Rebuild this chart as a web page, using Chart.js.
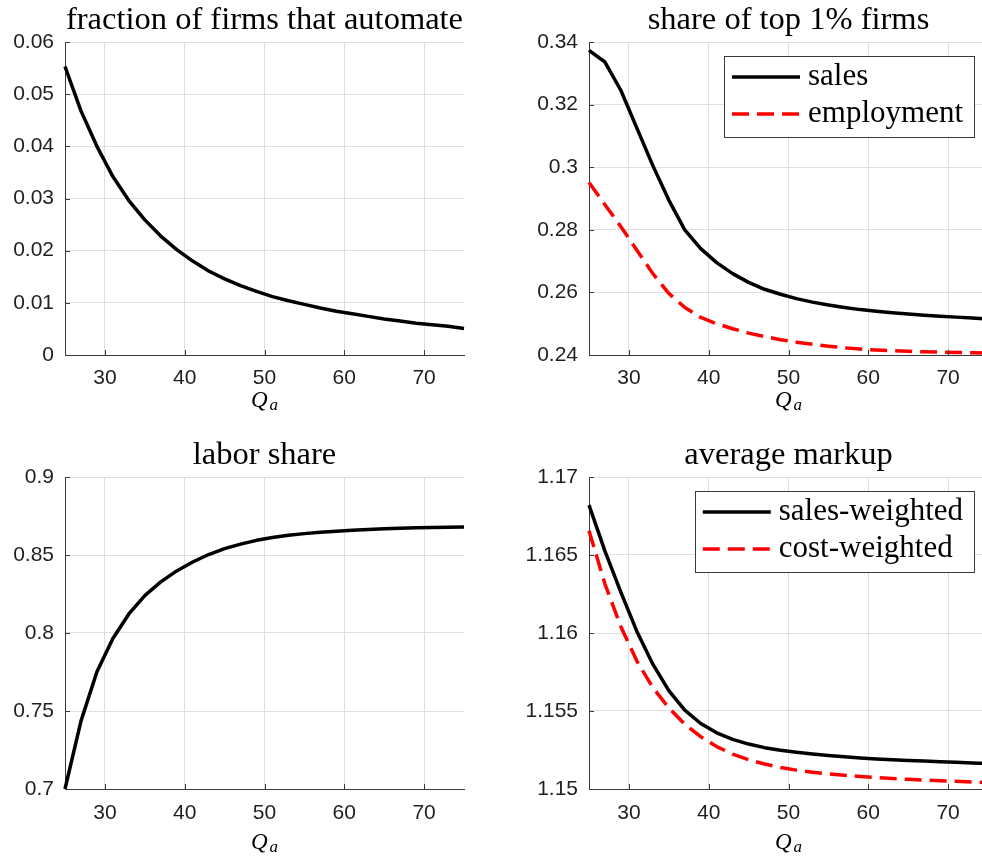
<!DOCTYPE html>
<html><head><meta charset="utf-8">
<script src="https://cdn.jsdelivr.net/npm/chart.js@4/dist/chart.umd.min.js"></script>
<style>
html,body{margin:0;padding:0;background:#fff;overflow:hidden;width:982px;height:860px;position:relative;}
canvas{position:absolute;}
</style></head><body>
<canvas id="c1" width="491" height="430" style="left:0px;top:0px"></canvas>
<canvas id="c2" width="520" height="430" style="left:491px;top:0px"></canvas>
<canvas id="c3" width="491" height="430" style="left:0px;top:430px"></canvas>
<canvas id="c4" width="520" height="430" style="left:491px;top:430px"></canvas>
<script>
// ---- data ----
const Qa = [25,27,29,31,33,35,37,39,41,43,45,47,49,51,53,55,57,59,61,63,65,67,69,71,73,75];
const automateFraction = [0.0553,0.0468,0.0400,0.0342,0.0296,0.0259,0.0228,0.0202,0.0180,0.0161,0.0146,0.0133,0.0122,0.0112,0.0104,0.0097,0.0090,0.0084,0.0079,0.0074,0.0069,0.0065,0.0061,0.0058,0.0055,0.0051];
const top1Sales = [0.3373,0.3336,0.3245,0.3125,0.3005,0.2895,0.2800,0.2740,0.2695,0.2660,0.2632,0.2610,0.2594,0.2580,0.2569,0.2560,0.2552,0.2545,0.2540,0.2535,0.2531,0.2527,0.2524,0.2521,0.2518,0.2515];
const top1Employment = [0.2951,0.2880,0.2810,0.2735,0.2660,0.2597,0.2552,0.2520,0.2500,0.2484,0.2470,0.2459,0.2449,0.2441,0.2434,0.2428,0.2423,0.2419,0.2416,0.2414,0.2412,0.2410,0.2409,0.2408,0.2407,0.2406];
const laborShare = [0.700,0.7435,0.7752,0.7965,0.8122,0.8240,0.8328,0.8398,0.8455,0.8503,0.8541,0.8570,0.8594,0.8612,0.8626,0.8637,0.8646,0.8653,0.8659,0.8664,0.8668,0.8671,0.8674,0.8676,0.8678,0.8680];
const markupSalesWeighted = [1.16820,1.16525,1.16260,1.16010,1.15800,1.15630,1.15505,1.15420,1.15360,1.15318,1.15288,1.15265,1.15248,1.15235,1.15224,1.15214,1.15206,1.15199,1.15193,1.15188,1.15183,1.15179,1.15175,1.15171,1.15167,1.15164];
const markupCostWeighted = [1.16656,1.16314,1.16040,1.15820,1.15650,1.15520,1.15415,1.15335,1.15272,1.15224,1.15188,1.15160,1.15138,1.15121,1.15108,1.15097,1.15088,1.15080,1.15073,1.15067,1.15062,1.15057,1.15053,1.15049,1.15045,1.15041];

const xTicks = [30,40,50,60,70];
const yTicksAutomate = [0,0.01,0.02,0.03,0.04,0.05,0.06];
const yTicksTop1 = [0.24,0.26,0.28,0.3,0.32,0.34];
const yTicksLabor = [0.7,0.75,0.8,0.85,0.9];
const yTicksMarkup = [1.15,1.155,1.16,1.165,1.17];

const titles = ['fraction of firms that automate','share of top 1% firms','labor share','average markup'];
const seriesLabels = ['sales','employment','sales-weighted','cost-weighted'];

// ---- style ----
const GRID = '#dfdfdf';
const AXIS = '#3a3a3a';
const TICKTXT = '#1f1f1f';
const SERIF = '"Liberation Serif", "Times New Roman", serif';
const SANS = '"Liberation Sans", Arial, Helvetica, sans-serif';

const decor = {
  id: 'decor',
  afterDraw(chart) {
    const o = chart.options.plugins.decor;
    const ctx = chart.ctx;
    const a = chart.chartArea;
    const xs = chart.scales.x, ys = chart.scales.y;
    ctx.save();
    // inward tick marks
    ctx.strokeStyle = AXIS; ctx.lineWidth = 1;
    ctx.beginPath();
    ys.ticks.forEach(t => { const y = Math.round(ys.getPixelForValue(t.value)) + 0.5; ctx.moveTo(a.left, y); ctx.lineTo(a.left + 5, y); });
    xs.ticks.forEach(t => { const x = Math.round(xs.getPixelForValue(t.value)) + 0.5; ctx.moveTo(x, a.bottom); ctx.lineTo(x, a.bottom - 5); });
    ctx.stroke();
    // title
    ctx.fillStyle = '#000';
    ctx.font = '32.5px ' + SERIF;
    ctx.textAlign = 'center'; ctx.textBaseline = 'alphabetic';
    ctx.fillText(o.title, (a.left + a.right) / 2, o.titleY);
    // x label Q_a
    const cx = (a.left + a.right) / 2;
    ctx.font = 'italic 23px ' + SERIF;
    const wq = ctx.measureText('Q').width;
    ctx.font = 'italic 17px ' + SERIF;
    const wa = ctx.measureText('a').width;
    const start = cx - (wq + 2 + wa) / 2;
    ctx.textAlign = 'left';
    ctx.font = 'italic 23px ' + SERIF;
    ctx.fillText('Q', start, o.qY);
    ctx.font = 'italic 17px ' + SERIF;
    ctx.fillText('a', start + wq + 2, o.qY + 3);
    // legend
    if (o.legend) {
      ctx.font = '31px ' + SERIF;
      const ds = chart.data.datasets;
      let maxW = 0;
      ds.forEach(d => { maxW = Math.max(maxW, ctx.measureText(d.label).width); });
      const bw = 84 + maxW + 11, bh = 81;
      const bx = a.right - 14 - bw, by = a.top + 14;
      ctx.fillStyle = '#fff';
      ctx.fillRect(bx, by, bw, bh);
      ctx.strokeStyle = AXIS; ctx.lineWidth = 1;
      ctx.strokeRect(Math.round(bx) + 0.5, Math.round(by) + 0.5, Math.round(bw), bh);
      ds.forEach((d, i) => {
        const y = by + 21 + i * 37;
        ctx.strokeStyle = d.borderColor; ctx.lineWidth = d.borderWidth;
        ctx.setLineDash(d.borderDash || []);
        ctx.beginPath(); ctx.moveTo(bx + 8, y); ctx.lineTo(bx + 76, y); ctx.stroke();
        ctx.setLineDash([]);
        ctx.fillStyle = '#000'; ctx.textAlign = 'left'; ctx.textBaseline = 'middle';
        ctx.fillText(d.label, bx + 84, y);
      });
    }
    ctx.restore();
  }
};

function makeChart(id, cfg) {
  new Chart(document.getElementById(id), {
    type: 'line',
    data: {
      datasets: cfg.series.map(s => ({
        label: s.label,
        data: Qa.map((x, i) => ({ x: x, y: s.values[i] })),
        borderColor: s.color,
        borderWidth: 3.5,
        borderDash: s.dash || [],
        borderCapStyle: 'butt',
        borderJoinStyle: 'round',
        pointRadius: 0,
        tension: 0,
        fill: false,
        clip: false
      }))
    },
    options: {
      responsive: false,
      animation: false,
      devicePixelRatio: 1,
      layout: { padding: { top: cfg.top, right: cfg.right, left: 0, bottom: 0 } },
      plugins: {
        legend: { display: false },
        tooltip: { enabled: false },
        decor: { title: cfg.title, titleY: cfg.titleY, qY: cfg.qY, legend: cfg.legend }
      },
      scales: {
        x: {
          type: 'linear', min: 25, max: 75,
          afterBuildTicks: s => { s.ticks = xTicks.map(v => ({ value: v })); },
          afterFit: s => { s.height = cfg.xh; },
          grid: { color: GRID, lineWidth: 1, drawTicks: false },
          border: { display: true, color: AXIS, width: 1 },
          ticks: { font: { family: SANS, size: 21 }, color: TICKTXT, padding: cfg.xpad, maxRotation: 0, autoSkip: false }
        },
        y: {
          type: 'linear', min: cfg.yTicks[0], max: cfg.yTicks[cfg.yTicks.length - 1],
          afterBuildTicks: s => { s.ticks = cfg.yTicks.map(v => ({ value: v })); },
          afterFit: s => { s.width = cfg.yw; },
          grid: { color: GRID, lineWidth: 1, drawTicks: false },
          border: { display: true, color: AXIS, width: 1 },
          ticks: { font: { family: SANS, size: 21 }, color: TICKTXT, padding: 11, autoSkip: false, callback: v => String(v) }
        }
      }
    },
    plugins: [decor]
  });
}

makeChart('c1', { title: titles[0], titleY: 29, qY: 407, top: 42, right: 27, yw: 65, xh: 75, xpad: 11, legend: false,
  yTicks: yTicksAutomate, series: [{ label: titles[0], values: automateFraction, color: '#000' }] });
makeChart('c2', { title: titles[1], titleY: 29, qY: 407, top: 42, right: 23, yw: 98, xh: 75, xpad: 11, legend: true,
  yTicks: yTicksTop1, series: [
    { label: seriesLabels[0], values: top1Sales, color: '#000' },
    { label: seriesLabels[1], values: top1Employment, color: '#ff0000', dash: [17, 8] }] });
makeChart('c3', { title: titles[2], titleY: 34, qY: 419, top: 47, right: 27, yw: 65, xh: 71, xpad: 12, legend: false,
  yTicks: yTicksLabor, series: [{ label: titles[2], values: laborShare, color: '#000' }] });
makeChart('c4', { title: titles[3], titleY: 34, qY: 419, top: 47, right: 23, yw: 98, xh: 71, xpad: 12, legend: true,
  yTicks: yTicksMarkup, series: [
    { label: seriesLabels[2], values: markupSalesWeighted, color: '#000' },
    { label: seriesLabels[3], values: markupCostWeighted, color: '#ff0000', dash: [17, 8] }] });
</script>
</body></html>
